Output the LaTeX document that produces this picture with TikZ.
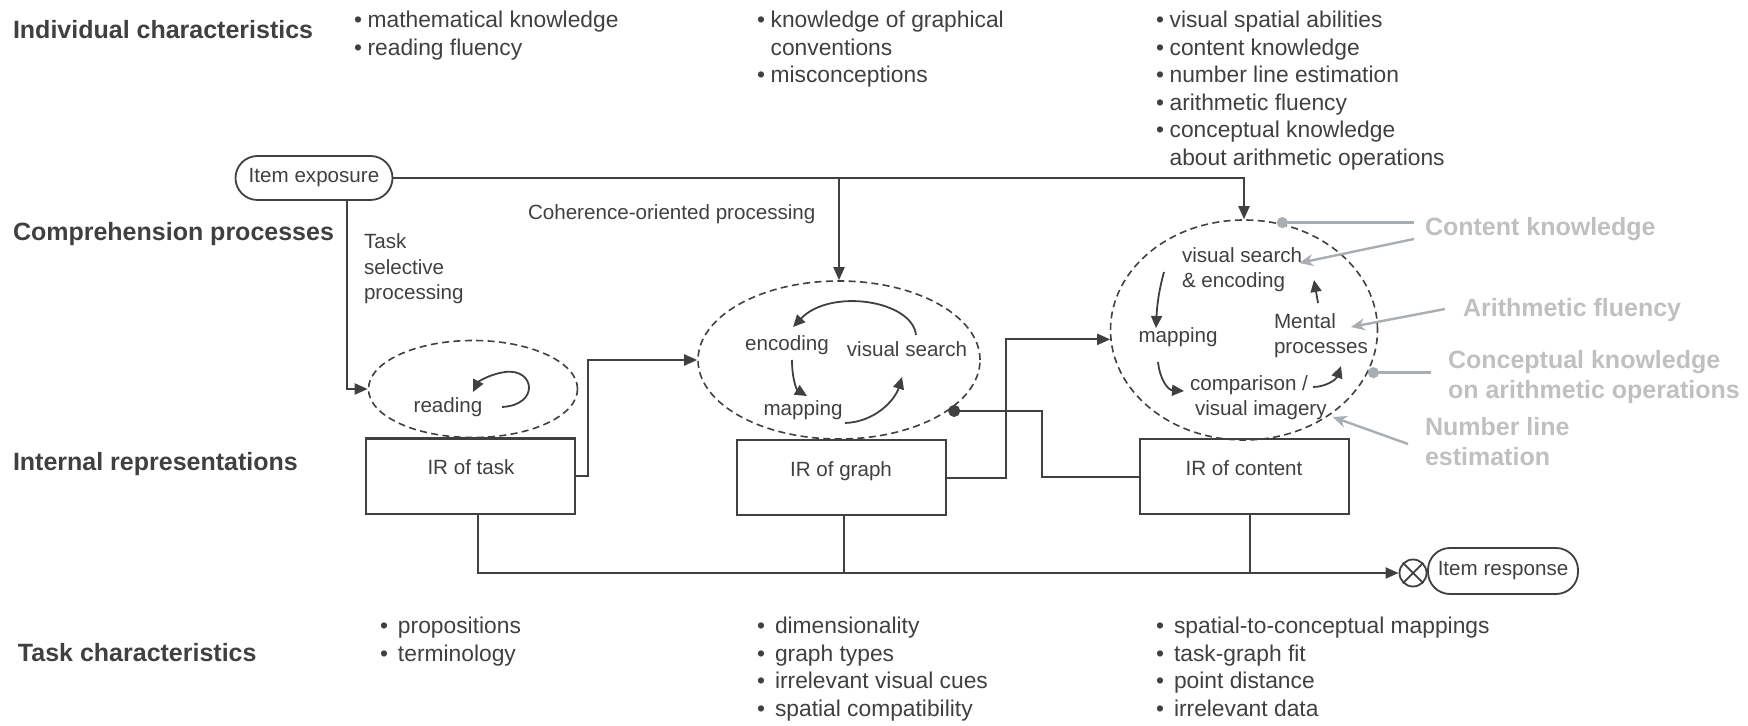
\documentclass[tikz,border=0pt]{standalone}
\usepackage{fontspec}
\setmainfont{Liberation Sans}
\usetikzlibrary{arrows.meta,shapes.geometric,calc}
\definecolor{ink}{HTML}{404040}
\definecolor{lg}{HTML}{C0C0C0}
\definecolor{ga}{HTML}{A9AEB3}
\begin{document}
\begin{tikzpicture}[x=0.5pt,y=-0.5pt,color=ink,line width=1pt,
  txt/.style={font=\fontsize{10.3}{12.5}\selectfont,inner sep=0pt,anchor=west,text=ink,text height=7.4pt,text depth=2.2pt},
  ctxt/.style={txt,anchor=center},
  ltxt/.style={font=\fontsize{11.4}{13.5}\selectfont,inner sep=0pt,anchor=west,text=ink,text height=8.2pt,text depth=2.4pt},
  hdr/.style={font=\fontsize{12.5}{15}\selectfont\bfseries,inner sep=0pt,anchor=west,text=ink,text height=9pt,text depth=2.6pt},
  glab/.style={font=\fontsize{12.5}{15}\selectfont\bfseries,inner sep=0pt,anchor=west,text=lg,text height=9pt,text depth=2.6pt},
  irbox/.style={draw,line width=1pt,minimum width=104.5pt,minimum height=37.5pt,inner sep=0pt},
  procell/.style={draw,ellipse,dash pattern=on 3.5pt off 2.2pt,inner sep=0pt,line width=0.8pt},
  pill/.style={draw,rounded corners=11pt,inner sep=0pt,line width=0.9pt,font=\fontsize{10.3}{12.5}\selectfont,text=ink},
  conn/.style={line width=1pt,-{Triangle[length=6.5pt,width=5.5pt]}},
  inner/.style={line width=0.9pt,-{Triangle[length=6pt,width=5.5pt]}},
  dotconn/.style={line width=1pt,{Circle[length=6pt]}-},
  garr/.style={draw=ga,line width=1.2pt,-{Stealth[length=7pt,width=6pt]}},
  gdot/.style={draw=ga,line width=1.2pt,{Circle[length=5.5pt]}-}
]
\useasboundingbox (0,0) rectangle (1748,726);

% headers
\node[hdr] (hic) at (12,32) {Individual characteristics};
\node[hdr] (hcp) at (12,234) {Comprehension processes};
\node[hdr] (hir) at (12,464) {Internal representations};
\node[hdr] (htc) at (17,655) {Task characteristics};

% top lists
\newcommand{\tb}{\makebox[6.8pt][l]{\textbullet}}
\newcommand{\bb}{\makebox[9pt][l]{\textbullet}}
\node[ltxt] (t11) at (353,22) {\tb mathematical knowledge};
\node[ltxt] (t12) at (353,49.5) {\tb reading fluency};
\node[ltxt] (t21) at (756,22) {\tb knowledge of graphical};
\node[ltxt] (t22) at (769.6,49.5) {conventions};
\node[ltxt] (t23) at (756,77) {\tb misconceptions};
\node[ltxt] (t31) at (1155,22) {\tb visual spatial abilities};
\node[ltxt] (t32) at (1155,49.5) {\tb content knowledge};
\node[ltxt] (t33) at (1155,77) {\tb number line estimation};
\node[ltxt] (t34) at (1155,104.5) {\tb arithmetic fluency};
\node[ltxt] (t35) at (1155,132) {\tb conceptual knowledge};
\node[ltxt] (t36) at (1168.6,159.5) {about arithmetic operations};

% bottom lists
\node[ltxt] (b11) at (379,628) {\bb propositions};
\node[ltxt] (b12) at (379,655.5) {\bb terminology};
\node[ltxt] (b21) at (756,628) {\bb dimensionality};
\node[ltxt] (b22) at (756,655.5) {\bb graph types};
\node[ltxt] (b23) at (756,683) {\bb irrelevant visual cues};
\node[ltxt] (b24) at (756,710.5) {\bb spatial compatibility};
\node[ltxt] (b31) at (1155,628) {\bb spatial-to-conceptual mappings};
\node[ltxt] (b32) at (1155,655.5) {\bb task-graph fit};
\node[ltxt] (b33) at (1155,683) {\bb point distance};
\node[ltxt] (b34) at (1155,710.5) {\bb irrelevant data};

% process labels
\node[txt] (coh) at (527,214) {Coherence-oriented processing};
\node[txt] (ts1) at (363,243) {Task};
\node[txt] (ts2) at (363,269) {selective};
\node[txt] (ts3) at (363,294) {processing};

% main nodes
\node[pill,minimum width=78.5pt,minimum height=22pt] (ie) at (314,178) {Item exposure};
\node[procell,minimum width=104.5pt,minimum height=48.5pt] (er) at (473,389) {};
\node[procell,minimum width=141pt,minimum height=79pt] (eg) at (839,360) {};
\node[procell,minimum width=133.5pt,minimum height=110pt] (ec) at (1244,330) {};
\node[irbox] (irt) at (470.5,476) {};
\node[irbox] (irg) at (841,477.5) {};
\node[irbox] (irc) at (1244.5,476.5) {};
\node[ctxt] (lirt) at (471,469) {IR of task};
\node[ctxt] (lirg) at (841,471) {IR of graph};
\node[ctxt] (lirc) at (1244,470) {IR of content};
\node[circle,draw,minimum size=13.5pt,inner sep=0pt,line width=0.9pt] (ox) at (1413,573) {};
\draw[line width=0.9pt] (ox.45) -- (ox.225) (ox.135) -- (ox.315);
\node[pill,minimum width=75pt,minimum height=23pt] (iresp) at (1503,571) {Item response};

% inner labels
\node[ctxt] (rd) at (448,407) {reading};
\node[ctxt] (genc) at (787,345) {encoding};
\node[ctxt] (gvs) at (907,351) {visual search};
\node[ctxt] (gmap) at (803,410) {mapping};
\node[txt] (cvs) at (1181,257) {visual search};
\node[txt] (cenc) at (1181,282) {\& encoding};
\node[ctxt] (cmap) at (1178,337) {mapping};
\node[txt] (cmen) at (1273,323) {Mental};
\node[txt] (cpro) at (1273,348) {processes};
\node[txt] (ccmp) at (1189,385) {comparison /};
\node[txt] (cvi) at (1194,410) {visual imagery};

% connectors
\draw[conn] (ie.east) -| (ec.north);
\coordinate (brg) at (eg.north |- ie.east);
\draw[conn] (brg) -- (eg.north);
\coordinate (ies) at ($(ie.south)+(33,0)$);
\draw[conn] (ies) |- (er.west);
\draw[conn] (irt.east) -- ++(12,0) |- (eg.west);
\draw[conn] (irg.east) -- ++(59,0) |- (ec.184);
\draw[dotconn] (eg.-25) -- ++(94,0) |- (irc.west);
\coordinate (ts) at ($(irt.south)+(7,0)$);
\coordinate (gs) at ($(irg.south)+(3,0)$);
\coordinate (cs) at ($(irc.south)+(5,0)$);
\draw[conn] (ts) |- (ox.west);
\draw (gs) -- (gs |- ox.west);
\draw (cs) -- (cs |- ox.west);

% reading loop
\draw[inner] (502,407) .. controls (540,405) and (535,368) .. (505,372) .. controls (490,374) and (478,382) .. (473,392);
% graph loop
\draw[inner] (916,335) .. controls (912,300) and (830,288) .. (793,327);
\draw[inner] (792,360) .. controls (792,380) and (797,390) .. (807,396);
\draw[inner] (845,423) .. controls (875,422) and (895,400) .. (902,377);
% content loop
\draw[inner] (1164,272) .. controls (1159,290) and (1157,305) .. (1156,328);
\draw[inner] (1158,362) .. controls (1160,380) and (1168,390) .. (1184,391);
\draw[inner] (1313,387) .. controls (1325,387) and (1336,380) .. (1341,366);
\draw[inner] (1318,303) -- (1314,280);

% grey annotations
\node[glab] (gck) at (1424,229) {Content knowledge};
\node[glab] (gaf) at (1462,310) {Arithmetic fluency};
\node[glab] (gco1) at (1447,362) {Conceptual knowledge};
\node[glab] (gco2) at (1447,392) {on arithmetic operations};
\node[glab] (gnl1) at (1424,429) {Number line};
\node[glab] (gnl2) at (1424,459) {estimation};
\coordinate (ckd) at (ec.73);
\draw[gdot,shorten >=5pt] (ckd) -- (ckd -| gck.west);
\coordinate (cks) at ($(gck.west)+(-10,10)$);
\coordinate (ckt) at ($(cvs.east)+(-4,6)$);
\draw[garr] (cks) -- (ckt);
\coordinate (afs) at ($(gaf.west)+(-17,-1)$);
\coordinate (aft) at ($(cmen.east)+(14,4)$);
\draw[garr] (afs) -- (aft);
\coordinate (cod) at (ec.-19);
\draw[gdot,shorten >=8pt] (cod) -- (cod -| gco1.west);
\coordinate (nls) at ($(gnl1.west)+(-16,15)$);
\coordinate (nlt) at ($(cvi.east)+(5,7)$);
\draw[garr] (nls) -- (nlt);
\end{tikzpicture}
\end{document}
